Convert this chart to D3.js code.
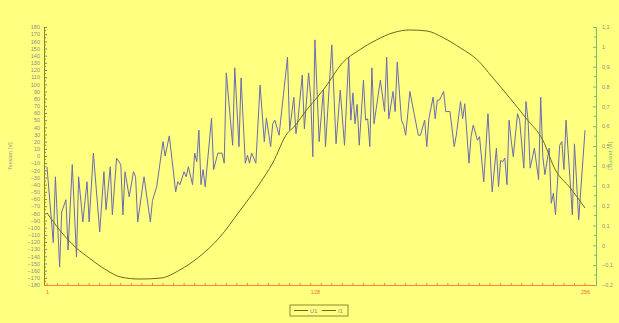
<!DOCTYPE html>
<html>
<head>
<meta charset="utf-8">
<script src="https://cdn.jsdelivr.net/npm/d3@7"></script>
<style>
  html, body { margin: 0; padding: 0; background: #ffff80; }
  svg { display: block; font-family: "DejaVu Sans", sans-serif; }
</style>
</head>
<body>
<svg id="chart" width="619" height="323"></svg>
<script>
// U1 samples (index, volts)
const uIdx = [1,4,5,7,8,10,11,13,15,16,18,20,21,23,26,28,29,31,32,34,36,37,38,40,42,43,44,47,50,51,53,56,57,59,62,63,64,66,67,68,70,71,72,73,74,75,76,79,80,82,84,85,86,89,90,92,93,95,96,97,98,100,102,104,105,107,108,109,111,115,116,118,119,120,122,123,125,126,127,128,130,132,133,136,138,140,142,144,145,146,147,148,149,151,152,153,154,155,156,159,161,162,163,165,166,167,169,170,171,172,173,175,177,178,180,181,182,184,185,186,187,189,190,192,194,195,197,198,199,201,202,203,205,206,208,210,212,214,215,216,217,218,219,220,221,222,224,225,227,228,229,230,232,234,235,236,237,239,240,241,242,244,245,246,247,250,251,253,256];
const uVal = [-15,-121,-29,-155,-78,-61,-131,-12,-141,-29,-92,-36,-92,4,-106,-22,-75,-15,-82,-3,-12,-82,-22,-57,-22,-29,-92,-29,-92,-62,-43,20,0,28,-50,-36,-40,-22,-29,-15,-40,4,-8,36,-40,-19,-43,53,-19,4,4,-10,116,15,123,13,109,-10,1,-10,4,-10,99,20,53,13,45,50,29,138,36,82,31,52,113,38,116,82,-1,162,20,92,13,155,17,92,15,138,50,88,45,72,15,106,50,52,13,123,45,106,62,138,52,90,62,131,50,43,29,59,90,59,29,29,50,13,52,82,52,78,78,90,62,62,13,29,76,52,73,-10,27,43,22,27,-36,59,-50,11,-43,-6,-8,-3,-40,50,22,-1,59,50,-17,76,50,-17,11,-33,82,-1,-26,11,-66,-52,-82,15,20,-19,50,-82,17,-89,36];

// I1 samples (index, amperes)
const iIdx = [1,7,15,21,29,36,45,55,64,73,83,92,102,108,115,118,124,130,133,141,149,157,165,173,181,189,197,205,212,220,228,236,242,249,256];
const iVal = [0.164,0.077,-0.014,-0.064,-0.124,-0.16,-0.17,-0.165,-0.124,-0.059,0.042,0.168,0.314,0.415,0.566,0.596,0.682,0.757,0.798,0.919,0.984,1.034,1.071,1.085,1.08,1.045,0.994,0.934,0.848,0.747,0.641,0.53,0.379,0.289,0.188];

const xLabels = [1, 128, 256];
const seriesNames = ['U1', 'I1'];

const svg = d3.select('#chart');
const plotLeft = 44, plotRight = 596, plotTop = 27, plotBottom = 285;

const x = d3.scaleLinear().domain([-0.4, 261.2]).range([plotLeft, plotRight]);
const yU = d3.scaleLinear().domain([-180, 180]).range([plotBottom, plotTop]);
const yI = d3.scaleLinear().domain([-0.2, 1.1]).range([plotBottom, plotTop]);

const fmt = d3.formatLocale({ decimal: ',', thousands: ' ', grouping: [3], currency: ['', ''] }).format('~g');

// left axis
const leftAxis = svg.append('g')
  .attr('transform', `translate(${plotLeft},0)`)
  .call(d3.axisLeft(yU).tickValues(d3.range(-180, 181, 10)).tickSize(-3).tickPadding(4));
leftAxis.select('.domain').attr('stroke', '#8a8a30');
leftAxis.selectAll('.tick line').attr('stroke', '#8a8a30');
leftAxis.selectAll('text').attr('fill', '#8c8c8c').attr('font-size', 5.5);
leftAxis.append('g').selectAll('line').data(d3.range(-175, 180, 10)).join('line')
  .attr('x1', 0).attr('x2', 2).attr('y1', d => yU(d)).attr('y2', d => yU(d))
  .attr('stroke', '#8a8a30');

// right axis
const rightAxis = svg.append('g')
  .attr('transform', `translate(${plotRight},0)`)
  .call(d3.axisRight(yI).tickValues(d3.range(-2, 12).map(d => d / 10)).tickFormat(fmt).tickSize(-3).tickPadding(6));
rightAxis.select('.domain').attr('stroke', '#70c070');
rightAxis.selectAll('.tick line').attr('stroke', '#70c070');
rightAxis.selectAll('text').attr('fill', '#8c8c8c').attr('font-size', 5.5);
rightAxis.append('g').selectAll('line').data(d3.range(-0.15, 1.1, 0.1)).join('line')
  .attr('x1', 0).attr('x2', -2).attr('y1', d => yI(d)).attr('y2', d => yI(d))
  .attr('stroke', '#70c070');

// bottom axis
const bottomAxis = svg.append('g')
  .attr('transform', `translate(0,${plotBottom})`)
  .call(d3.axisBottom(x).tickValues(xLabels).tickSize(0).tickPadding(5));
bottomAxis.select('.domain').attr('stroke', '#ff8040');
bottomAxis.selectAll('text').attr('fill', '#ff6a30').attr('font-size', 5.5);
bottomAxis.append('g').selectAll('line').data(d3.range(1, 261, 5)).join('line')
  .attr('x1', d => x(d)).attr('x2', d => x(d)).attr('y1', -2).attr('y2', 0)
  .attr('stroke', '#ff8040');

// axis titles
svg.append('text')
  .attr('transform', `translate(12,${(plotTop + plotBottom) / 2}) rotate(-90)`)
  .attr('text-anchor', 'middle').attr('font-size', 5).attr('fill', '#8c8c8c')
  .text('Tension [V]');
svg.append('text')
  .attr('transform', `translate(612,${(plotTop + plotBottom) / 2}) rotate(-90)`)
  .attr('text-anchor', 'middle').attr('font-size', 5).attr('fill', '#70b070')
  .text('Courant [A]');

// series
const lineU = d3.line().x((d, i) => x(uIdx[i])).y(d => yU(d));
const lineI = d3.line().x((d, i) => x(iIdx[i])).y(d => yI(d)).curve(d3.curveMonotoneX);

svg.append('path').attr('d', lineU(uVal))
  .attr('fill', 'none').attr('stroke', '#6b6bb0').attr('stroke-width', 1);
svg.append('path').attr('d', lineI(iVal))
  .attr('fill', 'none').attr('stroke', '#6a6a20').attr('stroke-width', 1);

// legend
const lg = svg.append('g').attr('transform', 'translate(290,305)');
lg.append('rect').attr('width', 58).attr('height', 11)
  .attr('fill', 'none').attr('stroke', '#8a8a30').attr('stroke-width', 1);
seriesNames.forEach((name, i) => {
  const ox = 4 + i * 28;
  lg.append('line').attr('x1', ox).attr('x2', ox + 14).attr('y1', 5.5).attr('y2', 5.5)
    .attr('stroke', '#6a6a20').attr('stroke-width', 1);
  lg.append('text').attr('x', ox + 16).attr('y', 7.5).attr('font-size', 5.5)
    .attr('fill', '#8c8c8c').text(name);
});
</script>
</body>
</html>
